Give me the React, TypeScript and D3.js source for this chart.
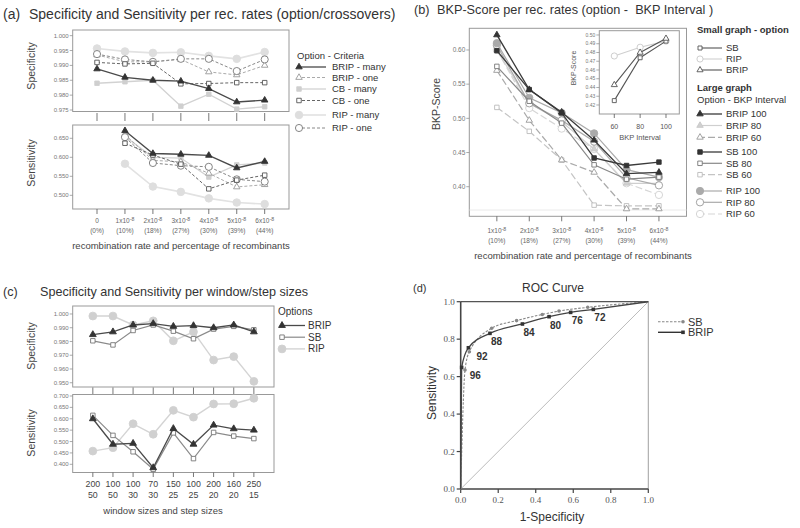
import React from "react";
import * as d3 from "d3";

const FONT = "'Liberation Sans', Arial, Helvetica, sans-serif";
const SERIF = "'Liberation Serif', 'Times New Roman', serif";

// ---------- Panel (a) data ----------
const rateLabels = ["0", "1x10", "2x10", "3x10", "4x10", "5x10", "6x10"];
const ratePercents = ["(0%)", "(10%)", "(18%)", "(27%)", "(30%)", "(39%)", "(44%)"];

const specBRIPmany = [0.9888, 0.986, 0.985, 0.9847, 0.9822, 0.9777, 0.9783];
const specBRIPone = [0.9935, 0.9912, 0.9912, 0.992, 0.9878, 0.9868, 0.99];
const specCBmany = [0.984, 0.9845, 0.985, 0.9763, 0.9803, 0.9753, 0.9761];
const specCBone = [0.991, 0.9905, 0.9907, 0.9838, 0.9839, 0.9842, 0.9842];
const specRIPmany = [0.9957, 0.9947, 0.9942, 0.9944, 0.9932, 0.9922, 0.9945];
const specRIPone = [0.9938, 0.992, 0.9912, 0.9922, 0.9922, 0.9881, 0.992];

const sensBRIPmany = [null, 0.67, 0.61, 0.608, 0.605, 0.572, 0.589];
const sensBRIPone = [null, 0.66, 0.592, 0.588, 0.558, 0.522, 0.528];
const sensCBmany = [null, 0.655, 0.6, 0.598, 0.548, 0.58, 0.585];
const sensCBone = [null, 0.637, 0.606, 0.582, 0.517, 0.54, 0.553];
const sensRIPmany = [null, 0.583, 0.523, 0.509, 0.492, 0.481, 0.477];
const sensRIPone = [null, 0.653, 0.585, 0.578, 0.575, 0.542, 0.536];

const specTicksA = [0.975, 0.98, 0.985, 0.99, 0.995, 1.0];
const sensTicksA = [0.5, 0.55, 0.6, 0.65];

// ---------- Panel (b) data ----------
const rateLabelsB = ["1x10", "2x10", "3x10", "4x10", "5x10", "6x10"];
const ratePercentsB = ["(10%)", "(18%)", "(27%)", "(30%)", "(39%)", "(44%)"];
const bkpBRIP100 = [0.622, 0.542, 0.509, 0.468, 0.419, 0.421];
const bkpBRIP80 = [0.6, 0.522, 0.495, 0.455, 0.405, 0.405];
const bkpBRIP60 = [0.57, 0.497, 0.439, 0.421, 0.3675, 0.3675];
const bkpSB100 = [0.599, 0.542, 0.508, 0.442, 0.431, 0.436];
const bkpSB80 = [0.576, 0.525, 0.493, 0.432, 0.411, 0.414];
const bkpSB60 = [0.516, 0.481, 0.439, 0.373, 0.372, 0.372];
const bkpRIP100 = [0.61, 0.53, 0.508, 0.478, 0.425, 0.414];
const bkpRIP80 = [0.607, 0.522, 0.497, 0.466, 0.413, 0.402];
const bkpRIP60 = [0.6, 0.515, 0.485, 0.455, 0.405, 0.388];
const bkpTicks = [0.4, 0.45, 0.5, 0.55, 0.6];

const insetIntervals = [60, 80, 100];
const insetSB = [0.425, 0.474, 0.493];
const insetRIP = [0.476, 0.486, 0.493];
const insetBRIP = [0.443, 0.48, 0.496];
const insetTicks = [0.42, 0.43, 0.44, 0.45, 0.46, 0.47, 0.48, 0.49, 0.5];

// ---------- Panel (c) data ----------
const windowSizes = ["200", "100", "100", "70", "150", "100", "200", "160", "250"];
const stepSizes = ["50", "50", "30", "30", "25", "25", "20", "20", "15"];
const specC_BRIP = [0.985, 0.987, 0.992, 0.993, 0.991, 0.9915, 0.99, 0.992, 0.987];
const specC_SB = [0.9805, 0.9775, 0.988, 0.992, 0.9875, 0.982, 0.989, 0.991, 0.9885];
const specC_RIP = [0.9985, 0.9985, 0.992, 0.995, 0.9805, 0.987, 0.9665, 0.969, 0.951];
const sensC_BRIP = [0.6, 0.488, 0.492, 0.385, 0.557, 0.488, 0.572, 0.556, 0.55];
const sensC_SB = [0.615, 0.527, 0.455, 0.378, 0.538, 0.425, 0.54, 0.524, 0.513];
const sensC_RIP = [0.458, 0.473, 0.578, 0.532, 0.637, 0.607, 0.665, 0.666, 0.69];
const specTicksC = [0.95, 0.96, 0.97, 0.98, 0.99, 1.0];
const sensTicksC = [0.4, 0.45, 0.5, 0.55, 0.6, 0.65, 0.7];

// ---------- Panel (d) data ----------
const rocBRIPx = [0, 0.005, 0.041, 0.156, 0.329, 0.471, 0.586, 0.707, 1];
const rocBRIPy = [0, 0.649, 0.754, 0.831, 0.881, 0.92, 0.943, 0.959, 1];
const rocSBx = [0, 0.023, 0.046, 0.165, 0.298, 0.435, 0.524, 0.677, 1];
const rocSBy = [0, 0.635, 0.733, 0.858, 0.899, 0.932, 0.95, 0.97, 1];
const rocThresholds = ["96", "92", "88", "84", "80", "76", "72"];
const rocTicks = [0, 0.2, 0.4, 0.6, 0.8, 1.0];

type Shape = "tri" | "sq" | "circ";
type Ser = {
  name: string;
  values: (number | null)[];
  stroke: string;
  width: number;
  dash?: string;
  shape: Shape;
  fill: string;
  mstroke: string;
  size: number;
};

function Mk({ shape, x, y, size, fill, stroke }: { shape: Shape; x: number; y: number; size: number; fill: string; stroke: string }) {
  const type = shape === "tri" ? d3.symbolTriangle : shape === "sq" ? d3.symbolSquare : d3.symbolCircle;
  const d = d3.symbol().type(type).size(size)() as string;
  return <path d={d} transform={`translate(${x},${y})`} fill={fill} stroke={stroke} strokeWidth={0.9} />;
}

function SeriesLines({ series, x, y }: { series: Ser[]; x: (i: number) => number; y: (v: number) => number }) {
  return (
    <g>
      {series.map((s) => {
        const line = d3
          .line<number | null>()
          .defined((d) => d != null)
          .x((_, i) => x(i))
          .y((d) => y(d as number));
        return (
          <g key={s.name}>
            <path d={line(s.values) || ""} fill="none" stroke={s.stroke} strokeWidth={s.width} strokeDasharray={s.dash} />
            {s.values.map((v, i) =>
              v == null ? null : <Mk key={i} shape={s.shape} x={x(i)} y={y(v)} size={s.size} fill={s.fill} stroke={s.mstroke} />
            )}
          </g>
        );
      })}
    </g>
  );
}

function YTicks({ scale, ticks, fmt, x, fs, color = "#777" }: { scale: d3.ScaleLinear<number, number>; ticks: number[]; fmt: (n: number) => string; x: number; fs: number; color?: string }) {
  return (
    <g>
      {ticks.map((t) => (
        <g key={t}>
          <line x1={x - 3} x2={x} y1={scale(t)} y2={scale(t)} stroke="#888" strokeWidth={0.7} />
          <text x={x - 4} y={scale(t)} dy="0.35em" textAnchor="end" fontSize={fs} fill={color}>
            {fmt(t)}
          </text>
        </g>
      ))}
    </g>
  );
}

function LegendRow({ s, x, y, len, tx, fs }: { s: Ser; x: number; y: number; len: number; tx: number; fs: number }) {
  return (
    <g>
      <line x1={x} x2={x + len} y1={y} y2={y} stroke={s.stroke} strokeWidth={s.width} strokeDasharray={s.dash} />
      <Mk shape={s.shape} x={x + 2} y={y} size={s.size} fill={s.fill} stroke={s.mstroke} />
      <text x={tx} y={y} dy="0.35em" fontSize={fs} fill="#333">
        {s.name}
      </text>
    </g>
  );
}

function RateLabel({ x, y, base, pct, fs, hasExp }: { x: number; y: number; base: string; pct: string; fs: number; hasExp: boolean }) {
  return (
    <g fill="#666" fontSize={fs}>
      <text x={x} y={y} textAnchor="middle">
        <tspan>{base}</tspan>
        {hasExp ? (
          <tspan dy={-2.5} fontSize={fs * 0.8}>
            -8
          </tspan>
        ) : null}
      </text>
      <text x={x} y={y + 10} textAnchor="middle">
        {pct}
      </text>
    </g>
  );
}

function PanelA() {
  const L = 72.7, R = 289;
  const x = d3.scalePoint<number>().domain(d3.range(7)).range([L, R]).padding(0.87);
  const xi = (i: number) => x(i) as number;
  const ySpec = d3.scaleLinear().domain([0.9745, 1.0019]).range([111.5, 30]);
  const ySens = d3.scaleLinear().domain([0.464, 0.685]).range([209, 125]);
  const mk = (name: string, kind: string, vals: (number | null)[]): Ser => {
    const st: Record<string, Omit<Ser, "name" | "values">> = {
      BRIPmany: { stroke: "#4a4a4a", width: 1.3, shape: "tri", fill: "#333", mstroke: "#333", size: 18 },
      BRIPone: { stroke: "#aaa", width: 1, dash: "3,2", shape: "tri", fill: "#fff", mstroke: "#999", size: 18 },
      CBmany: { stroke: "#d2d2d2", width: 1.3, shape: "sq", fill: "#cfcfcf", mstroke: "#cfcfcf", size: 20 },
      CBone: { stroke: "#666", width: 1, dash: "3,2", shape: "sq", fill: "#fff", mstroke: "#555", size: 20 },
      RIPmany: { stroke: "#e2e2e2", width: 1.6, shape: "circ", fill: "#dedede", mstroke: "#dedede", size: 45 },
      RIPone: { stroke: "#888", width: 1, dash: "3,2", shape: "circ", fill: "#fff", mstroke: "#777", size: 40 },
    };
    return { name, values: vals, ...st[kind] };
  };
  const specSeries = [
    mk("RIP - many", "RIPmany", specRIPmany),
    mk("CB - many", "CBmany", specCBmany),
    mk("BRIP - one", "BRIPone", specBRIPone),
    mk("RIP - one", "RIPone", specRIPone),
    mk("CB - one", "CBone", specCBone),
    mk("BRIP - many", "BRIPmany", specBRIPmany),
  ];
  const sensSeries = [
    mk("RIP - many", "RIPmany", sensRIPmany),
    mk("CB - many", "CBmany", sensCBmany),
    mk("BRIP - one", "BRIPone", sensBRIPone),
    mk("RIP - one", "RIPone", sensRIPone),
    mk("CB - one", "CBone", sensCBone),
    mk("BRIP - many", "BRIPmany", sensBRIPmany),
  ];
  const legendOrder = ["BRIP - many", "BRIP - one", "CB - many", "CB - one", "RIP - many", "RIP - one"];
  const legendY = [67, 77.5, 89, 100.5, 115, 128];
  const f3 = d3.format(".3f");
  return (
    <g>
      <text x={3} y={19} fontSize={14} fill="#333">
        (a)
      </text>
      <text x={29} y={19} fontSize={14} fill="#333">
        Specificity and Sensitivity per rec. rates (option/crossovers)
      </text>
      <rect x={L} y={30} width={R - L} height={111.5 - 30} fill="none" stroke="#999" strokeWidth={1} />
      <rect x={L} y={125} width={R - L} height={209 - 125} fill="none" stroke="#999" strokeWidth={1} />
      <YTicks scale={ySpec} ticks={specTicksA} fmt={f3} x={L} fs={6} />
      <YTicks scale={ySens} ticks={sensTicksA} fmt={f3} x={L} fs={6} />
      {d3.range(7).map((i) => (
        <g key={i}>
          <line x1={xi(i)} x2={xi(i)} y1={113} y2={121} stroke="#555" strokeWidth={0.8} />
          <line x1={xi(i)} x2={xi(i)} y1={209} y2={214} stroke="#555" strokeWidth={0.8} />
          <RateLabel x={xi(i)} y={223} base={rateLabels[i]} pct={ratePercents[i]} fs={6.5} hasExp={i > 0} />
        </g>
      ))}
      <SeriesLines series={specSeries} x={xi} y={ySpec} />
      <SeriesLines series={sensSeries} x={xi} y={ySens} />
      <text x={181} y={249} textAnchor="middle" fontSize={9.5} fill="#444">
        recombination rate and percentage of recombinants
      </text>
      <text transform="translate(35,66) rotate(-90)" textAnchor="middle" fontSize={10.5} fill="#444">
        Specificity
      </text>
      <text transform="translate(35,163) rotate(-90)" textAnchor="middle" fontSize={10.5} fill="#444">
        Sensitivity
      </text>
      <text x={297} y={56} dy="0.35em" fontSize={9.5} fill="#333">
        Option - Criteria
      </text>
      {legendOrder.map((n, k) => (
        <LegendRow key={n} s={specSeries.find((s) => s.name === n)!} x={297} y={legendY[k]} len={29} tx={332} fs={9.5} />
      ))}
    </g>
  );
}

function PanelB() {
  const L = 469.3, R = 686.5, T = 28.3, B = 216.3;
  const x = d3.scalePoint<number>().domain(d3.range(6)).range([L, R]).padding(0.85);
  const xi = (i: number) => x(i) as number;
  const y = d3.scaleLinear().domain([0.3567, 0.6317]).range([B, T]);
  const base: Record<string, Omit<Ser, "name" | "values">> = {
    BRIP100: { stroke: "#3a3a3a", width: 1.3, shape: "tri", fill: "#333", mstroke: "#333", size: 18 },
    BRIP80: { stroke: "#cfcfcf", width: 1.2, shape: "tri", fill: "#d0d0d0", mstroke: "#c8c8c8", size: 18 },
    BRIP60: { stroke: "#aaa", width: 1.2, dash: "7,3", shape: "tri", fill: "#fff", mstroke: "#999", size: 18 },
    SB100: { stroke: "#3a3a3a", width: 1.3, shape: "sq", fill: "#333", mstroke: "#333", size: 20 },
    SB80: { stroke: "#888", width: 1.2, shape: "sq", fill: "#fff", mstroke: "#777", size: 20 },
    SB60: { stroke: "#c4c4c4", width: 1.2, dash: "7,3", shape: "sq", fill: "#fff", mstroke: "#bbb", size: 20 },
    RIP100: { stroke: "#aaa", width: 1.2, shape: "circ", fill: "#aaa", mstroke: "#aaa", size: 42 },
    RIP80: { stroke: "#aaa", width: 1.2, shape: "circ", fill: "#fff", mstroke: "#999", size: 42 },
    RIP60: { stroke: "#d6d6d6", width: 1.2, dash: "7,3", shape: "circ", fill: "#fff", mstroke: "#d0d0d0", size: 42 },
  };
  const S = (name: string, key: string, v: number[]): Ser => ({ name, values: v, ...base[key] });
  const series = [
    S("RIP 60", "RIP60", bkpRIP60),
    S("SB 60", "SB60", bkpSB60),
    S("BRIP 60", "BRIP60", bkpBRIP60),
    S("BRIP 80", "BRIP80", bkpBRIP80),
    S("RIP 80", "RIP80", bkpRIP80),
    S("RIP 100", "RIP100", bkpRIP100),
    S("SB 80", "SB80", bkpSB80),
    S("SB 100", "SB100", bkpSB100),
    S("BRIP 100", "BRIP100", bkpBRIP100),
  ];
  const legendNames = ["BRIP 100", "BRIP 80", "BRIP 60", "SB 100", "SB 80", "SB 60", "RIP 100", "RIP 80", "RIP 60"];
  const legendY = [114, 125.5, 137.3, 152, 163.3, 174.7, 191, 202.3, 214];
  // inset
  const iL = 599.3, iR = 679.3, iT = 30.7, iB = 114;
  const ix = d3.scaleLinear().domain([48.4, 110.3]).range([iL, iR]);
  const iy = d3.scaleLinear().domain([0.4097, 0.5049]).range([iB, iT]);
  const insetSeries: { name: string; v: number[]; s: Ser }[] = [
    { name: "RIP", v: insetRIP, s: { name: "RIP", values: [], stroke: "#cfcfcf", width: 1.1, shape: "circ", fill: "#fff", mstroke: "#c8c8c8", size: 30 } },
    { name: "SB", v: insetSB, s: { name: "SB", values: [], stroke: "#555", width: 1.1, shape: "sq", fill: "#fff", mstroke: "#555", size: 16 } },
    { name: "BRIP", v: insetBRIP, s: { name: "BRIP", values: [], stroke: "#555", width: 1.1, shape: "tri", fill: "#fff", mstroke: "#555", size: 16 } },
  ];
  const iline = d3.line<number>().x((_, i) => ix(insetIntervals[i])).y((d) => iy(d));
  const f2 = d3.format(".2f");
  return (
    <g>
      <text x={414} y={14} fontSize={12.7} fill="#333">
        (b)
      </text>
      <text x={437} y={14} fontSize={12.7} fill="#333" style={{ whiteSpace: "pre" }}>
        {"BKP-Score per rec. rates (option -  BKP Interval )"}
      </text>
      <rect x={L} y={T} width={R - L} height={B - T} fill="none" stroke="#999" strokeWidth={1} />
      <line x1={L} x2={R} y1={210} y2={210} stroke="#e4e4e4" strokeWidth={0.8} />
      <YTicks scale={y} ticks={bkpTicks} fmt={f2} x={L} fs={6.5} />
      {d3.range(6).map((i) => (
        <g key={i}>
          <line x1={xi(i)} x2={xi(i)} y1={B} y2={B + 5} stroke="#555" strokeWidth={0.8} />
          <RateLabel x={xi(i)} y={233} base={rateLabelsB[i]} pct={ratePercentsB[i]} fs={6.5} hasExp={true} />
        </g>
      ))}
      <SeriesLines series={series} x={xi} y={y} />
      <text x={583} y={259} textAnchor="middle" fontSize={9.5} fill="#444">
        recombination rate and percentage of recombinants
      </text>
      <text transform="translate(440,104) rotate(-90)" textAnchor="middle" fontSize={10.5} fill="#444">
        BKP-Score
      </text>
      {/* inset */}
      <rect x={iL} y={iT} width={iR - iL} height={iB - iT} fill="#fff" stroke="#999" strokeWidth={1} />
      <YTicks scale={iy} ticks={insetTicks} fmt={f2} x={iL} fs={5} />
      {insetIntervals.map((v) => (
        <g key={v}>
          <line x1={ix(v)} x2={ix(v)} y1={iB} y2={iB + 4} stroke="#555" strokeWidth={0.8} />
          <text x={ix(v)} y={129} textAnchor="middle" fontSize={7} fill="#555">
            {v}
          </text>
        </g>
      ))}
      <text x={640} y={140} textAnchor="middle" fontSize={7.5} fill="#555">
        BKP Interval
      </text>
      <text transform="translate(576,68) rotate(-90)" textAnchor="middle" fontSize={7} fill="#555">
        BKP-Score
      </text>
      {insetSeries.map((o) => (
        <g key={o.name}>
          <path d={iline(o.v) || ""} fill="none" stroke={o.s.stroke} strokeWidth={o.s.width} />
          {o.v.map((d, i) => (
            <Mk key={i} shape={o.s.shape} x={ix(insetIntervals[i])} y={iy(d)} size={o.s.size} fill={o.s.fill} stroke={o.s.mstroke} />
          ))}
        </g>
      ))}
      {/* legend */}
      <text x={697} y={30} dy="0.35em" fontSize={9.5} fontWeight="bold" fill="#333">
        Small graph - option
      </text>
      {["SB", "RIP", "BRIP"].map((n, k) => {
        const o = insetSeries.find((q) => q.name === n)!;
        return <LegendRow key={n} s={o.s} x={698} y={48 + k * 11} len={24} tx={726} fs={9.5} />;
      })}
      <text x={697} y={88} dy="0.35em" fontSize={9.5} fontWeight="bold" fill="#333">
        Large graph
      </text>
      <text x={697} y={99.5} dy="0.35em" fontSize={9.5} fill="#333">
        Option - BKP Interval
      </text>
      {legendNames.map((n, k) => (
        <LegendRow key={n} s={series.find((s) => s.name === n)!} x={698} y={legendY[k]} len={24} tx={726} fs={9.5} />
      ))}
    </g>
  );
}

function PanelC() {
  const L = 72.7, R = 274;
  const x = d3.scalePoint<number>().domain(d3.range(9)).range([L, R]).padding(1);
  const xi = (i: number) => x(i) as number;
  const ySpec = d3.scaleLinear().domain([0.9469, 1.0058]).range([387, 306]);
  const ySens = d3.scaleLinear().domain([0.364, 0.7066]).range([472.5, 394.5]);
  const st: Record<string, Omit<Ser, "name" | "values">> = {
    BRIP: { stroke: "#4a4a4a", width: 1.3, shape: "tri", fill: "#333", mstroke: "#333", size: 20 },
    SB: { stroke: "#8a8a8a", width: 1.2, shape: "sq", fill: "#fff", mstroke: "#777", size: 20 },
    RIP: { stroke: "#d4d4d4", width: 1.4, shape: "circ", fill: "#d0d0d0", mstroke: "#d0d0d0", size: 48 },
  };
  const specSeries: Ser[] = [
    { name: "RIP", values: specC_RIP, ...st.RIP },
    { name: "SB", values: specC_SB, ...st.SB },
    { name: "BRIP", values: specC_BRIP, ...st.BRIP },
  ];
  const sensSeries: Ser[] = [
    { name: "RIP", values: sensC_RIP, ...st.RIP },
    { name: "SB", values: sensC_SB, ...st.SB },
    { name: "BRIP", values: sensC_BRIP, ...st.BRIP },
  ];
  const f3 = d3.format(".3f");
  return (
    <g>
      <text x={3} y={296} fontSize={12.6} fill="#333">
        (c)
      </text>
      <text x={40} y={296} fontSize={12.6} fill="#333">
        Specificity and Sensitivity per window/step sizes
      </text>
      <rect x={L} y={306} width={R - L} height={387 - 306} fill="none" stroke="#999" strokeWidth={1} />
      <rect x={L} y={394.5} width={R - L} height={472.5 - 394.5} fill="none" stroke="#999" strokeWidth={1} />
      <YTicks scale={ySpec} ticks={specTicksC} fmt={f3} x={L} fs={6} />
      <YTicks scale={ySens} ticks={sensTicksC} fmt={f3} x={L} fs={6} />
      {d3.range(9).map((i) => (
        <g key={i}>
          <line x1={xi(i)} x2={xi(i)} y1={387.5} y2={394} stroke="#555" strokeWidth={0.8} />
          <line x1={xi(i)} x2={xi(i)} y1={472.5} y2={477} stroke="#555" strokeWidth={0.8} />
          <text x={xi(i)} y={486.5} textAnchor="middle" fontSize={8.8} fill="#444">
            {windowSizes[i]}
          </text>
          <text x={xi(i)} y={497.5} textAnchor="middle" fontSize={8.8} fill="#444">
            {stepSizes[i]}
          </text>
        </g>
      ))}
      <SeriesLines series={specSeries} x={xi} y={ySpec} />
      <SeriesLines series={sensSeries} x={xi} y={ySens} />
      <text x={163} y={514} textAnchor="middle" fontSize={9.5} fill="#444">
        window sizes and step sizes
      </text>
      <text transform="translate(35,346) rotate(-90)" textAnchor="middle" fontSize={10.5} fill="#444">
        Specificity
      </text>
      <text transform="translate(35,433) rotate(-90)" textAnchor="middle" fontSize={10.5} fill="#444">
        Sensitivity
      </text>
      <text x={278} y={311.5} dy="0.35em" fontSize={10} fill="#333">
        Options
      </text>
      {["BRIP", "SB", "RIP"].map((n, k) => (
        <LegendRow key={n} s={specSeries.find((s) => s.name === n)!} x={280} y={325.5 + k * 11.7} len={25} tx={308} fs={10} />
      ))}
    </g>
  );
}

function PanelD() {
  const x = d3.scaleLinear().domain([0, 1]).range([460.7, 648.3]);
  const y = d3.scaleLinear().domain([0, 1]).range([489, 301.7]);
  const curve = (xs: number[], ys: number[]) =>
    d3
      .line<number>()
      .x((d) => x(d))
      .y((_, i) => y(ys[i]))
      .curve(d3.curveMonotoneX)(xs) || "";
  const f1 = d3.format(".1f");
  return (
    <g>
      <text x={413} y={292} fontSize={11} fill="#333">
        (d)
      </text>
      <text x={553} y={292} textAnchor="middle" fontSize={12} fill="#333">
        ROC Curve
      </text>
      {/* frame */}
      <line x1={x(0)} x2={x(1)} y1={y(1)} y2={y(1)} stroke="#555" strokeWidth={1.2} />
      <line x1={x(1)} x2={x(1)} y1={y(0)} y2={y(1)} stroke="#888" strokeWidth={0.8} />
      <line x1={x(0)} x2={x(1)} y1={y(0)} y2={y(0)} stroke="#444" strokeWidth={1.6} />
      <line x1={x(0)} x2={x(0)} y1={y(0)} y2={y(1)} stroke="#444" strokeWidth={1.6} />
      {rocTicks.map((t) => (
        <g key={t}>
          <line x1={x(t)} x2={x(t)} y1={y(0)} y2={y(0) + 4} stroke="#444" strokeWidth={1.2} />
          <text x={x(t)} y={503} textAnchor="middle" fontSize={9} fontFamily={SERIF} fill="#555">
            {f1(t)}
          </text>
          <line x1={x(0) - 4} x2={x(0)} y1={y(t)} y2={y(t)} stroke="#444" strokeWidth={1.2} />
          <text x={x(0) - 6} y={y(t)} dy="0.35em" textAnchor="end" fontSize={9} fontFamily={SERIF} fill="#555">
            {f1(t)}
          </text>
        </g>
      ))}
      <line x1={x(0)} y1={y(0)} x2={x(1)} y2={y(1)} stroke="#bbb" strokeWidth={1} />
      <path d={curve(rocSBx, rocSBy)} fill="none" stroke="#888" strokeWidth={1.1} strokeDasharray="2.5,1.5" />
      {rocSBx.slice(1, -1).map((v, i) => (
        <circle key={i} cx={x(v)} cy={y(rocSBy[i + 1])} r={1.8} fill="#888" />
      ))}
      <path d={curve(rocBRIPx, rocBRIPy)} fill="none" stroke="#444" strokeWidth={1.3} />
      {rocBRIPx.slice(1, -1).map((v, i) => (
        <g key={i}>
          <rect x={x(v) - 1.8} y={y(rocBRIPy[i + 1]) - 1.8} width={3.6} height={3.6} fill="#333" />
          <text x={x(v) + (i < 2 ? 8 : 1)} y={y(rocBRIPy[i + 1]) + 12} fontSize={10} fontWeight="bold" fill="#333">
            {rocThresholds[i]}
          </text>
        </g>
      ))}
      <text x={552} y={521} textAnchor="middle" fontSize={12} fill="#333">
        1-Specificity
      </text>
      <text transform="translate(436,393) rotate(-90)" textAnchor="middle" fontSize={12} fill="#333">
        Sensitivity
      </text>
      {/* legend */}
      <line x1={658} x2={683} y1={321.7} y2={321.7} stroke="#888" strokeWidth={1.1} strokeDasharray="2.5,1.5" />
      <circle cx={683} cy={321.7} r={1.8} fill="#888" />
      <text x={688} y={321.7} dy="0.35em" fontSize={11} fill="#333">
        SB
      </text>
      <line x1={658} x2={683} y1={332.3} y2={332.3} stroke="#333" strokeWidth={1.4} />
      <rect x={681.2} y={330.5} width={3.6} height={3.6} fill="#333" />
      <text x={688} y={332.3} dy="0.35em" fontSize={11} fill="#333">
        BRIP
      </text>
    </g>
  );
}

export default function App() {
  return (
    <div style={{ position: "absolute", left: 0, top: 0 }}>
      <svg width={800} height={528} style={{ display: "block", background: "#fff" }} fontFamily={FONT}>
        <PanelA />
        <PanelB />
        <PanelC />
        <PanelD />
      </svg>
    </div>
  );
}
